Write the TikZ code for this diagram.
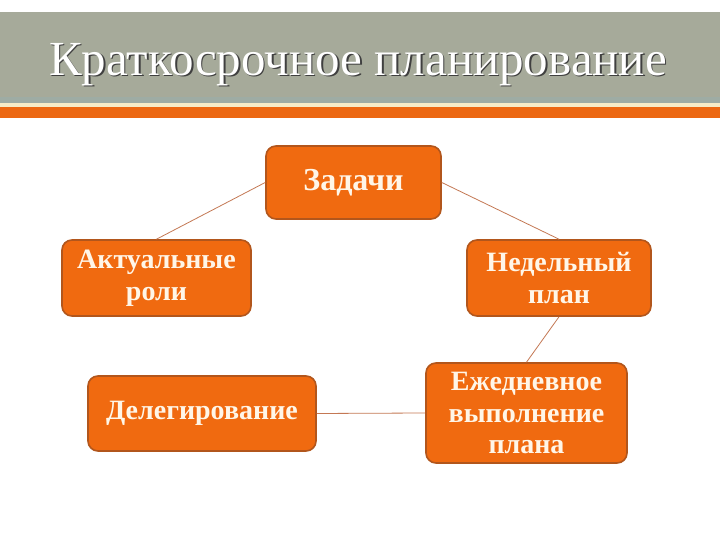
\documentclass[tikz,border=0pt]{standalone}
\usepackage{fontspec}
\setmainfont{Liberation Serif}
\definecolor{band}{RGB}{166,170,154}
\definecolor{bandlow}{RGB}{158,172,164}
\definecolor{creamline}{RGB}{246,236,200}
\definecolor{barorange}{RGB}{236,104,18}
\definecolor{boxfill}{RGB}{240,106,16}
\definecolor{boxedge}{RGB}{178,86,28}
\definecolor{linkcol}{RGB}{196,120,84}
\definecolor{txtcream}{RGB}{255,246,232}
\tikzset{
  box/.style={draw=boxedge, line width=1.6pt, fill=boxfill, rounded corners=10pt,
    inner sep=0pt, align=center, text=txtcream,
    font=\fontsize{28}{31.5}\selectfont\bfseries},
  link/.style={draw=linkcol, line width=0.8pt}
}
\begin{document}
\begin{tikzpicture}[x=1pt,y=1pt]
\useasboundingbox (0,0) rectangle (720,540);
\fill[white] (0,0) rectangle (720,540);
% title band
\fill[band] (0,443) rectangle (720,528);
\fill[bandlow] (0,437) rectangle (720,443);
\fill[creamline] (0,433) rectangle (720,437);
\fill[barorange] (0,422) rectangle (720,433);
\node[font=\fontsize{49}{52}\selectfont, text=black!75, anchor=base] at (359.5,463) {Краткосрочное планирование};
\node[font=\fontsize{49}{52}\selectfont, text=white, anchor=base] (title) at (358,464.5) {Краткосрочное планирование};
% boxes
\node[box, minimum width=175pt, minimum height=73pt, font=\fontsize{32}{34}\selectfont\bfseries] (zad) at (353.5,357.5) {Задачи};
\node[box, minimum width=189pt, minimum height=76pt] (akt) at (156.5,262) {Актуальные\\роли};
\node[box, minimum width=184pt, minimum height=76pt] (ned) at (559,262) {Недельный\\план};
\node[box, minimum width=228pt, minimum height=75pt] (del) at (202,126.5) {Делегирование};
\node[box, minimum width=201pt, minimum height=100pt] (ezh) at (526.5,127) {Ежедневное\\выполнение\\плана};
% links
\draw[link] (zad.west) -- (akt.north);
\draw[link] (zad.east) -- (ned.north);
\draw[link] (ned.south) -- (ezh.north);
\draw[link] (del.east) -- (ezh.west);
\end{tikzpicture}
\end{document}
